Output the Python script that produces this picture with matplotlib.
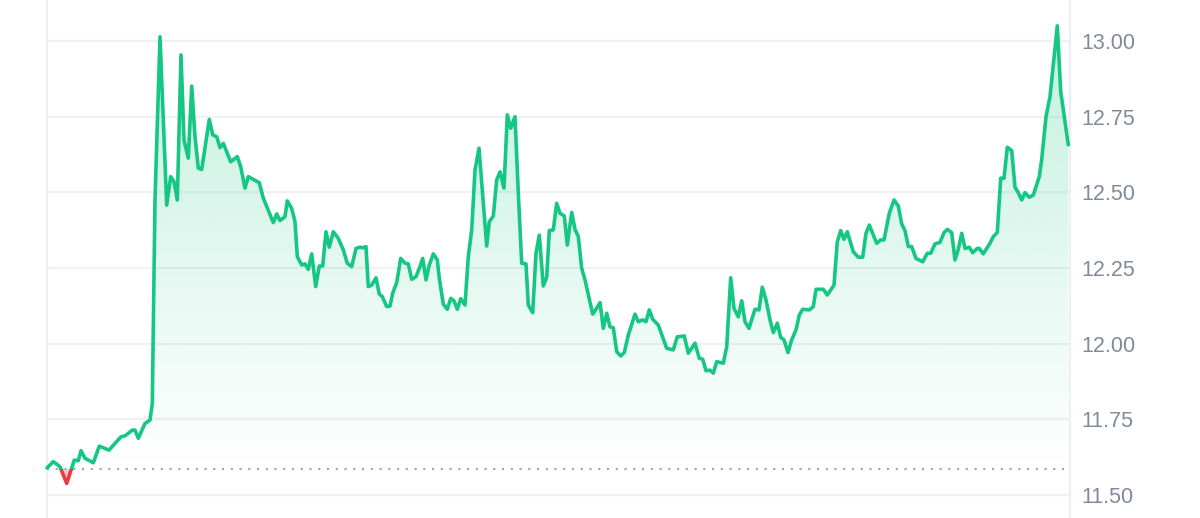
import numpy as np
import matplotlib
matplotlib.use("Agg")
import matplotlib.pyplot as plt
from matplotlib.patches import Rectangle
from matplotlib.path import Path
from matplotlib.colors import to_rgb

# ---- data ----
elapsed = [
    0, 6.3, 13, 19.7, 24.7, 27.3, 31.3, 34, 38, 46.3, 52.3, 62, 74, 78, 85.3, 88, 91.3, 98, 103, 105.3, 108, 113,
    119.7, 123.7, 127, 130.3, 134, 137, 141.3, 144.7, 148, 151.3, 154.7, 162.3, 165.7, 169.7, 173, 176.3, 183.7,
    190.3, 193.7, 198, 201.3, 212.3, 216.3, 226.3, 229.7, 233,
    238, 240.3, 244.7, 248, 250.3, 254.7, 258, 261.3, 264.7, 268.7,
    272.3, 275.7, 279, 282.3, 286.3, 291.3, 296.3, 300.3, 304.7, 309,
    313, 315.7, 319, 321.3, 324.7, 329, 332.3, 335.3, 339.7, 343,
    345.7, 349.7, 353.7, 358, 361.3, 364.7, 369, 373, 375.7, 379,
    382.3, 386.3, 390.3, 392.3, 396.3, 400.3, 403.7, 407, 410.3, 413.7,
    418, 421.3, 424.7, 428, 432, 435.7, 439.7, 442.3, 446.3, 449.7,
    453, 457, 460.3, 463.7, 468, 471.3, 474.7, 479, 481.3, 485.7,
    489, 492.3, 496.3, 499.7, 502.3, 506.3, 509.7, 513, 517.3, 520.3,
    524.7, 528, 531.3,
    534.7, 538, 545.7, 549, 553, 556.3, 559.7, 563, 566.3, 569.7,
    573.7, 577.3, 581.3, 588, 591.3, 595.7, 599, 602.3, 605.7, 611.3,
    619.7, 626.3, 630.3, 637.3, 641.3, 648, 652.3, 655.7, 659, 663,
    666.3, 669.7, 676.3, 679.7, 683.7, 687, 691.3, 694.7, 698, 702,
    708, 712, 715.3, 719, 723, 726.3, 730.3, 733.7, 737, 741,
    744.7, 749, 752.3, 755.7, 762.3, 766.3, 769, 776.3, 780.3, 787,
    790.3, 793.7, 797,
    800.3, 806.3, 811.3, 815.7, 819, 822.3, 829.7, 833.7, 837, 842.3,
    847, 851.3, 854.7, 858, 861.3, 864.7, 869, 875.7, 880.3, 883.7,
    888, 893, 897, 900.3, 904.7, 908, 911.3, 914.7, 918, 922.3,
    925.7, 930.3, 932.3, 936.3, 943, 946.3, 950.3, 953.7, 957, 960.3,
    964.7, 968, 971.3, 974.7, 978, 982.3, 986.3, 992.3, 994.7, 999,
    1003, 1010.3, 1013.7, 1017, 1021.3,
]

price = [
    11.590, 11.611, 11.594, 11.539, 11.589, 11.616, 11.614, 11.647, 11.622, 11.607, 11.662, 11.649, 11.693, 11.696,
    11.715, 11.715, 11.688, 11.737, 11.748, 11.803, 12.475, 13.014,
    12.458, 12.552, 12.535, 12.475, 12.954, 12.673, 12.613, 12.851, 12.684, 12.580, 12.576, 12.741, 12.690, 12.684,
    12.648, 12.662, 12.601, 12.618, 12.585, 12.514, 12.552, 12.532, 12.481, 12.400, 12.429, 12.407,
    12.420, 12.472, 12.447, 12.403, 12.288, 12.260, 12.264, 12.246, 12.297, 12.189,
    12.257, 12.257, 12.370, 12.319, 12.370, 12.348, 12.310, 12.266, 12.255, 12.315,
    12.319, 12.317, 12.321, 12.189, 12.194, 12.218, 12.164, 12.156, 12.123, 12.125,
    12.167, 12.202, 12.282, 12.266, 12.264, 12.213, 12.222, 12.255, 12.282, 12.211,
    12.260, 12.297, 12.277, 12.216, 12.131, 12.114, 12.150, 12.142, 12.114, 12.149,
    12.128, 12.288, 12.376, 12.574, 12.646, 12.491, 12.323, 12.403, 12.422, 12.541,
    12.568, 12.514, 12.756, 12.712, 12.750, 12.497, 12.266, 12.264, 12.128, 12.103,
    12.299, 12.359, 12.191, 12.220, 12.374, 12.376, 12.464, 12.431, 12.422, 12.326,
    12.434, 12.378, 12.354,
    12.249, 12.211, 12.098, 12.114, 12.136, 12.051, 12.101, 12.056, 12.053, 11.974,
    11.960, 11.971, 12.029, 12.098, 12.073, 12.079, 12.073, 12.112, 12.081, 12.062,
    11.985, 11.980, 12.023, 12.026, 11.969, 12.002, 11.952, 11.949, 11.911, 11.913,
    11.903, 11.941, 11.936, 11.990, 12.218, 12.117, 12.089, 12.142, 12.073, 12.051,
    12.114, 12.112, 12.187, 12.145, 12.079, 12.037, 12.068, 12.021, 12.013, 11.971,
    12.013, 12.046, 12.095, 12.114, 12.112, 12.123, 12.180, 12.180, 12.161, 12.194,
    12.337, 12.374, 12.345,
    12.370, 12.304, 12.286, 12.286, 12.365, 12.392, 12.332, 12.343, 12.343, 12.431,
    12.475, 12.455, 12.396, 12.374, 12.321, 12.321, 12.282, 12.271, 12.299, 12.299,
    12.330, 12.335, 12.367, 12.378, 12.367, 12.277, 12.312, 12.365, 12.315, 12.319,
    12.301, 12.315, 12.315, 12.297, 12.332, 12.354, 12.368, 12.547, 12.547, 12.649,
    12.638, 12.517, 12.499, 12.475, 12.499, 12.484, 12.491, 12.552, 12.609, 12.750,
    12.816, 13.050, 12.833, 12.756, 12.657,
]

baseline_price = 11.587
y_ticks = [11.50, 11.75, 12.00, 12.25, 12.50, 12.75, 13.00]
y_tick_labels = ["11.50", "11.75", "12.00", "12.25", "12.50", "12.75", "13.00"]

assert len(elapsed) == len(price), (len(elapsed), len(price))

GREEN = "#16c784"
RED = "#ea3943"

t = np.array(elapsed, dtype=float)
v = np.array(price, dtype=float)

fig = plt.figure(figsize=(12, 5.18), dpi=100)
ax = fig.add_axes([47 / 1200, 0, 1023 / 1200, 1])

XMIN, XMAX = 0, 1023
YMIN, YMAX = 11.4247, 13.1354

# gradient fill above the baseline, clipped to the area under the line
poly = ax.fill_between(t, v, baseline_price, where=v >= baseline_price, interpolate=True,
                       facecolor="none", edgecolor="none")
clip = Path.make_compound_path(*poly.get_paths())
N = 256
rgb = to_rgb(GREEN)
grad = np.zeros((N, 1, 4))
grad[:, 0, 0] = rgb[0]
grad[:, 0, 1] = rgb[1]
grad[:, 0, 2] = rgb[2]
grad[:, 0, 3] = np.linspace(0.0, 0.26, N)
img = ax.imshow(grad, extent=[XMIN, XMAX, baseline_price, v.max()], origin="lower",
                aspect="auto", zorder=1, interpolation="bilinear")
img.set_clip_path(clip, transform=ax.transData)

# red fill below baseline
ax.fill_between(t, v, baseline_price, where=v < baseline_price, interpolate=True,
                color=RED, alpha=0.28, linewidth=0, zorder=1)

# baseline dotted
ax.plot([t[0], t[-1]], [baseline_price, baseline_price], color="#9ea4b0", lw=1.5,
        linestyle=(0, (1, 3.2)), dash_capstyle="butt", zorder=2)

# line: green above baseline, red below
LW = 2.6
g_line, = ax.plot(t, v, color=GREEN, lw=LW, solid_joinstyle="round", solid_capstyle="round", zorder=3)
g_line.set_clip_path(Rectangle((XMIN - 10, baseline_price), XMAX + 20, 5, transform=ax.transData))
r_line, = ax.plot(t, v, color=RED, lw=LW, solid_joinstyle="round", solid_capstyle="round", zorder=3)
r_line.set_clip_path(Rectangle((XMIN - 10, baseline_price - 5), XMAX + 20, 5, transform=ax.transData))

ax.set_xlim(XMIN, XMAX)
ax.set_ylim(YMIN, YMAX)

ax.set_yticks(y_ticks)
ax.set_yticklabels(y_tick_labels)
ax.yaxis.tick_right()
ax.tick_params(axis="y", length=0, pad=8, labelsize=15.5, labelcolor="#808a9d")
for lab in ax.get_yticklabels():
    lab.set_fontfamily("Liberation Sans")
ax.set_xticks([])
ax.yaxis.grid(True, color="#eff1f3", lw=1.6, zorder=0)
ax.set_axisbelow(True)

for s in ["top", "bottom"]:
    ax.spines[s].set_visible(False)
for s in ["left", "right"]:
    ax.spines[s].set_color("#eceef1")
    ax.spines[s].set_linewidth(1.5)

fig.savefig("out.png", dpi=100)
